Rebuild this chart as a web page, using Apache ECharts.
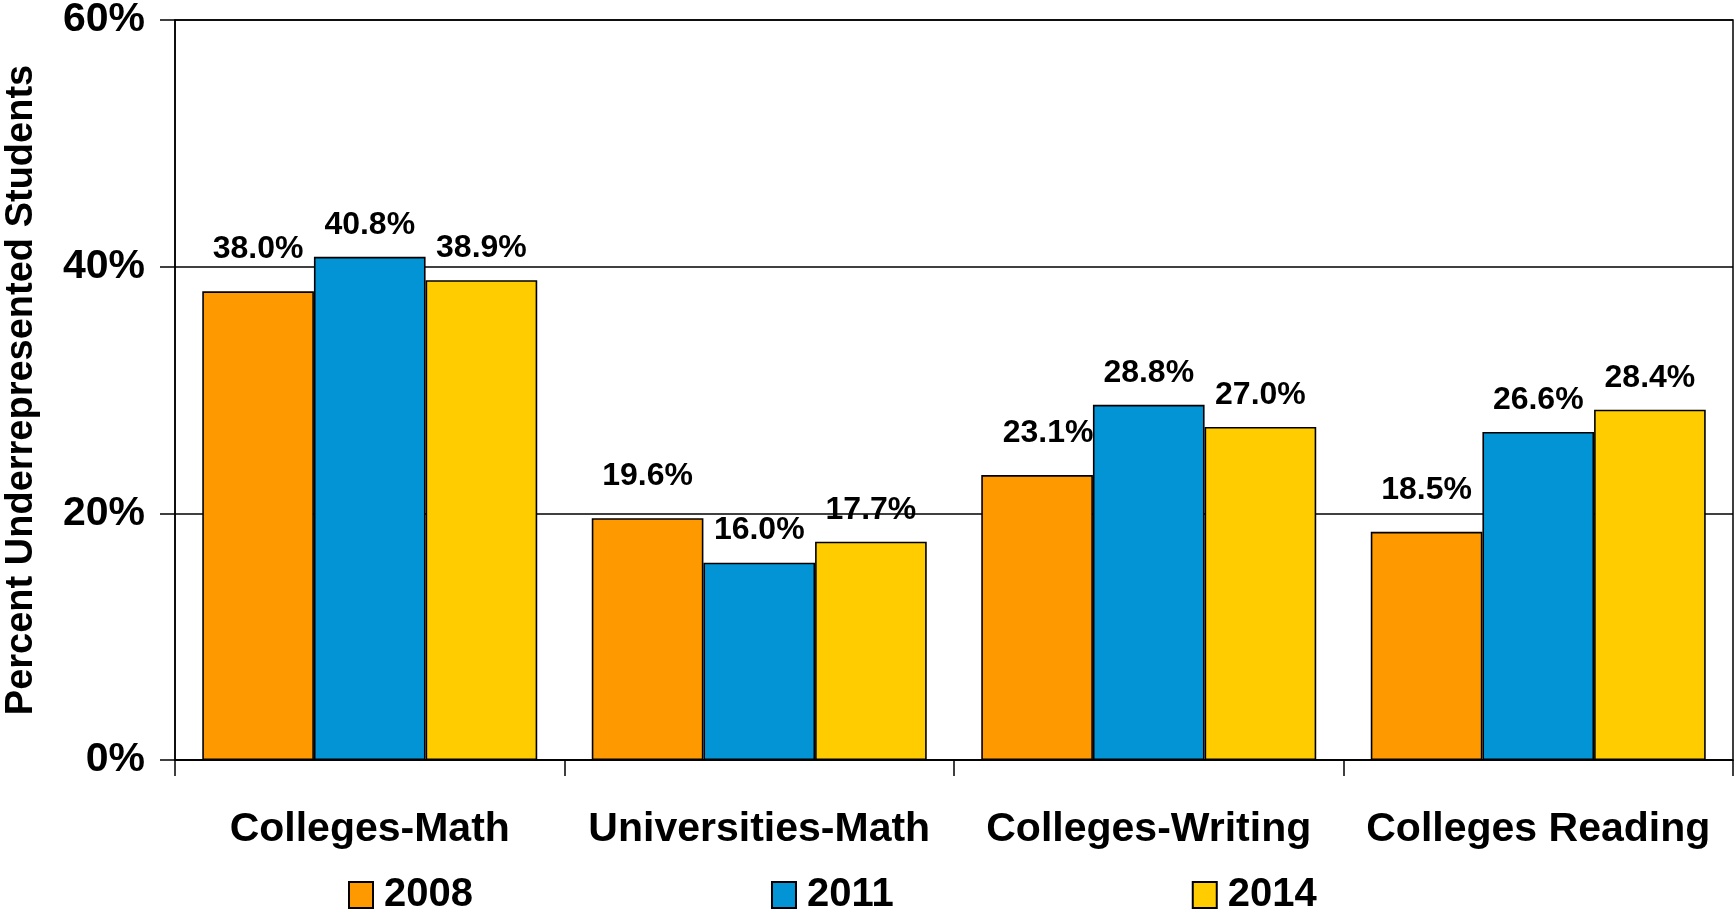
<!DOCTYPE html>
<html>
<head>
<meta charset="utf-8">
<script src="https://cdn.jsdelivr.net/npm/echarts@6/dist/echarts.min.js"></script>
<style>
  html, body { margin: 0; padding: 0; background: #fff; }
  #chart { width: 1734px; height: 913px; }
</style>
</head>
<body>
<div id="chart"></div>
<script>
// Share of underrepresented students by program and year
const categories = ['Colleges-Math', 'Universities-Math', 'Colleges-Writing', 'Colleges Reading'];
const years = ['2008', '2011', '2014'];
const values2008 = [38.0, 19.6, 23.1, 18.5];
const values2011 = [40.8, 16.0, 28.8, 26.6];
const values2014 = [38.9, 17.7, 27.0, 28.4];
const yTicks = [0, 20, 40, 60];

const FONT = '"Liberation Sans", Arial, sans-serif';
const colors = ['#FF9900', '#0294D4', '#FFCC00'];
const seriesValues = [values2008, values2011, values2014];
// the first-year labels sit a little higher above their bars
const labelDistance = [26, 16, 16];

const chart = echarts.init(document.getElementById('chart'), null, { renderer: 'canvas' });

const series = years.map((year, i) => ({
  name: year,
  type: 'bar',
  barGap: '0%',
  barCategoryGap: '14%',
  data: seriesValues[i].map((v, j) => {
    const item = { value: v };
    if (i === 0 && j === 2) {
      item.label = { offset: [11, 0] };
    }
    return item;
  }),
  itemStyle: { color: colors[i], borderColor: '#000', borderWidth: 1.6 },
  label: {
    show: true,
    position: 'top',
    distance: labelDistance[i],
    formatter: p => p.value.toFixed(1) + '%',
    fontFamily: FONT,
    fontWeight: 'bold',
    fontSize: 32,
    color: '#000'
  },
  emphasis: { disabled: true }
}));

chart.setOption({
  animation: false,
  backgroundColor: '#fff',
  grid: {
    left: 175, right: 1, top: 20, bottom: 153,
    containLabel: false,
    outerBoundsMode: 'none',
    show: true, borderColor: '#000', borderWidth: 1.5, backgroundColor: 'transparent'
  },
  legend: {
    data: years,
    left: 343,
    top: 870,
    icon: 'rect',
    itemWidth: 24,
    itemHeight: 26,
    itemGap: 298,
    textStyle: {
      fontFamily: FONT, fontWeight: 'bold', fontSize: 40, color: '#000',
      padding: [0, 0, 0, 6]
    }
  },
  xAxis: {
    type: 'category',
    data: categories,
    axisLine: { show: true, lineStyle: { color: '#000', width: 1.5 } },
    axisTick: { show: true, length: 16, lineStyle: { color: '#000', width: 1.5 } },
    axisLabel: {
      fontFamily: FONT, fontWeight: 'bold', fontSize: 41, color: '#000',
      margin: 49, interval: 0
    }
  },
  yAxis: {
    type: 'value',
    min: yTicks[0],
    max: yTicks[yTicks.length - 1],
    interval: yTicks[1] - yTicks[0],
    name: 'Percent Underrepresented Students',
    nameLocation: 'middle',
    nameGap: 134,
    nameRotate: 90,
    nameTextStyle: { fontFamily: FONT, fontWeight: 'bold', fontSize: 38, color: '#000' },
    axisLine: { show: true, lineStyle: { color: '#000', width: 1.5 } },
    axisTick: { show: true, length: 15, inside: false, lineStyle: { color: '#000', width: 1.5 } },
    splitLine: { show: true, lineStyle: { color: '#000', width: 1.5 } },
    axisLabel: {
      formatter: '{value}%',
      fontFamily: FONT, fontWeight: 'bold', fontSize: 41, color: '#000',
      margin: 30
    }
  },
  series: series
});
</script>
</body>
</html>
